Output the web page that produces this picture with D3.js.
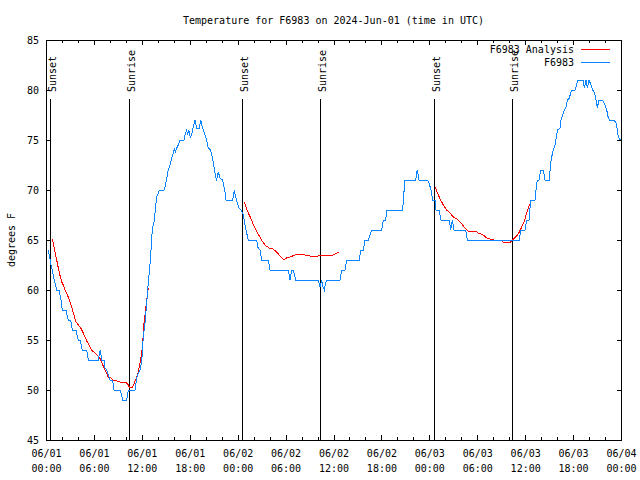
<!DOCTYPE html>
<html>
<head>
<meta charset="utf-8">
<script src="https://cdn.jsdelivr.net/npm/d3@7"></script>
<style>
  body { margin: 0; background: #fff; }
  svg text { font-family: "DejaVu Sans Mono", monospace; font-size: 10px; fill: #000; }
</style>
</head>
<body>
<svg id="chart" width="640" height="480"></svg>
<script>
// ---------------- DATA ----------------
const chartTitle = "Temperature for F6983 on 2024-Jun-01 (time in UTC)";
const yLabel = "degrees F";
const seriesNames = ["F6983 Analysis", "F6983"];
const startUTC = Date.UTC(2024, 5, 1);   // 06/01 00:00 UTC
const endUTC = Date.UTC(2024, 5, 4);     // 06/04 00:00 UTC
const yTicks = [45, 50, 55, 60, 65, 70, 75, 80, 85];

// sunrise / sunset events (hours after 06/01 00:00 UTC)
const sunLabels = ["Sunset", "Sunrise", "Sunset", "Sunrise", "Sunset", "Sunrise"];
const sunHours = [0.54, 10.43, 24.58, 34.35, 48.62, 58.39];

// observed temperature F6983: [hours after start, degF]
const observed = [
[0.29,64],[0.41,63.5],[0.63,62.5],[0.79,62],[0.91,61.5],[1.04,61],[1.21,60.5],[1.34,60],[1.63,60],[1.75,59.5],
[1.88,59],[2.04,58],[2.50,58],[2.67,57.3],[2.79,57],[3.09,57],[3.29,56],[3.76,56],[3.92,55.3],[4.04,55],
[4.26,55],[4.55,54],[5.10,54],[5.30,53],[6.55,53],[6.80,54],[6.89,53.5],[6.97,53],[7.26,53],[7.39,52.2],
[7.60,52],[7.80,51.5],[8.01,51],[8.35,51],[8.51,50],[9.27,50],[9.48,49.5],[9.60,49],[10.10,49],[10.23,49.7],
[10.36,50],[11.14,50],[11.36,51.2],[11.56,51.7],[11.77,52],[11.98,52.8],[12.18,55.3],[12.40,56.7],[12.61,58.7],[12.73,60],
[12.90,61.5],[13.02,62.5],[13.15,64],[13.24,65.3],[13.36,66.3],[13.52,66.8],[13.65,67.7],[13.77,68.7],[13.86,69.3],[14.06,69.7],
[14.19,70],[14.78,70],[14.90,70.3],[15.03,70.8],[15.19,71.5],[15.31,72],[15.61,72.7],[15.74,73.2],[15.94,73.7],[16.07,74.1],
[16.22,73.8],[16.37,74.2],[16.57,74.5],[16.78,75],[17.28,75],[17.41,75.5],[17.62,76],[17.74,75.5],[17.87,76],[18.07,75.3],
[18.24,75.5],[18.44,76.3],[18.66,77],[18.87,76.2],[19.20,76.2],[19.37,77],[19.57,76.3],[19.70,76],[19.91,75.5],[20.12,75],
[20.32,74.2],[20.62,74],[20.75,73.5],[20.95,72.8],[21.04,72.3],[21.25,71.3],[21.37,71],[21.58,71.8],[21.79,71.2],[22.08,71],
[22.20,70.7],[22.41,69.8],[22.54,69],[23.38,69],[23.58,70],[23.75,69.3],[23.95,68.7],[24.17,68.2],[24.42,68],[24.71,67.5],
[24.92,66.5],[25.13,65.7],[25.33,65],[26.38,65],[26.51,64.3],[26.80,64],[27.01,63],[27.84,63],[28.05,62],[30.34,62],
[30.55,61],[30.76,62],[30.96,62],[31.26,61],[34.10,61],[34.31,60.3],[34.52,61],[34.69,60.3],[34.85,60],[35.02,60.7],
[35.15,61],[36.81,61],[37.03,62],[37.44,62],[37.64,63],[39.23,63],[39.40,64],[39.73,64],[39.94,65],[40.35,65],
[40.78,66],[42.03,66],[42.24,67],[42.54,67],[42.66,68],[44.67,68],[44.74,69],[44.95,71],[46.29,71],[46.49,72],
[46.71,71],[47.75,71],[48.00,70.6],[48.21,70],[48.42,69],[48.71,69],[48.84,68],[49.21,68],[49.46,67],[50.50,67],
[50.68,66],[50.88,67],[51.09,66],[52.56,66],[52.76,65],[59.27,65],[59.45,66],[59.98,66],[60.19,67],[60.48,67],
[60.69,69],[61.23,69],[61.36,70],[61.52,71],[61.73,71],[61.94,72],[62.27,72],[62.48,71],[63.02,71],[63.20,72.7],
[63.32,73.3],[63.52,74],[63.74,74.5],[63.95,75.5],[64.07,76],[64.36,76.2],[64.49,77],[64.70,77.5],[64.90,78],[65.11,78.3],
[65.28,79],[65.53,79.2],[65.74,79.8],[65.90,80],[66.24,80],[66.45,80.5],[66.58,81],[67.28,81],[67.41,80.2],[67.62,81],
[67.78,80.2],[67.99,81],[68.20,80.6],[68.45,80],[68.65,79.8],[68.83,79.2],[69.03,78.2],[69.24,79],[69.71,79],[70.00,78.5],
[70.21,78],[70.41,77.2],[70.54,77],[71.13,77],[71.38,76.7],[71.54,76],[71.66,75.3],[71.91,75]
];

// analysis F6983 (three night segments)
const analysisNight1 = [
[0.79,65.1],[0.91,64.7],[1.13,63.8],[1.25,63.3],[1.42,62.7],[1.54,62.2],[1.67,61.7],[1.84,61.2],[1.97,60.8],[2.17,60.5],
[2.38,60],[2.59,59.7],[2.92,59],[3.22,58.3],[3.42,57.7],[3.76,56.8],[4.04,56.5],[4.35,56.2],[4.60,55.8],[4.88,55.3],
[5.17,54.8],[5.51,54.3],[5.80,53.9],[6.14,53.7],[6.42,53.5],[6.67,53.3],[6.97,52.8],[7.26,52.2],[7.51,51.8],[7.80,51.3],
[8.10,51.2],[8.43,51],[8.85,50.9],[9.27,50.8],[9.80,50.8],[10.10,50.7],[10.31,50.5],[10.43,50.3],[10.86,50.3],[11.06,50.7],
[11.36,51.3],[11.56,51.8],[11.77,52.7],[11.98,53.7],[12.11,54.7],[12.27,56.7],[12.43,57.7],[12.61,59],[12.81,60.2]
];
const analysisNight2 = [
[24.83,68.8],[25.04,68.3],[25.33,67.7],[25.63,67.2],[25.88,66.7],[26.17,66.2],[26.46,65.7],[26.80,65.3],[27.14,64.8],[27.55,64.4],
[27.96,64.2],[28.39,64.1],[28.89,63.8],[29.30,63.4],[29.80,63],[30.13,63.2],[30.55,63.3],[31.18,63.5],[31.81,63.6],[32.43,63.5],
[33.06,63.4],[33.68,63.3],[34.10,63.4],[34.52,63.5],[34.94,63.5],[35.56,63.4],[35.98,63.5],[36.40,63.7],[36.73,63.8]
];
const analysisNight3 = [
[48.71,70.3],[48.92,69.9],[49.12,69.5],[49.42,69],[49.75,68.5],[50.17,68],[50.59,67.7],[51.00,67.3],[51.43,67.1],[51.84,66.8],
[52.18,66.5],[52.56,66.1],[52.88,65.9],[53.72,65.9],[54.13,65.7],[54.76,65.5],[55.18,65.2],[55.60,65.1],[56.10,65],[56.85,65],
[57.26,64.8],[57.76,64.7],[58.18,64.8],[58.52,65.1],[58.94,65.4],[59.27,65.8],[59.57,66.3],[59.86,66.8],[60.11,67.5],[60.40,68.2],
[60.69,68.8]
];

// ---------------- DRAW ----------------
const svg = d3.select("#chart");
const M = { left: 46, right: 621, top: 40, bottom: 440 };
const toDate = h => new Date(startUTC + h * 3600e3);

const x = d3.scaleUtc().domain([new Date(startUTC), new Date(endUTC)]).range([M.left, M.right]);
const y = d3.scaleLinear().domain([45, 85]).range([M.bottom, M.top]);

const red = "#ff0000", blue = "#0a84ff";

// title
svg.append("text").attr("x", (M.left + M.right) / 2).attr("y", 20)
  .attr("text-anchor", "middle").attr("dominant-baseline", "central").text(chartTitle);

// y label
svg.append("text").attr("transform", `translate(11,${(M.top + M.bottom) / 2}) rotate(-90)`)
  .attr("text-anchor", "middle").attr("dominant-baseline", "central").text(yLabel);

// axes
const majorTicks = d3.utcHour.every(6).range(new Date(startUTC), new Date(endUTC + 1));
const minorTicks = d3.utcHour.every(2).range(new Date(startUTC), new Date(endUTC + 1));

const axG = svg.append("g").attr("shape-rendering", "crispEdges");
function styleAxis(g) {
  g.select(".domain").remove();
  g.selectAll("line").attr("stroke", "#000");
}
// bottom minor / major
axG.append("g").attr("transform", `translate(0,${M.bottom})`)
  .call(d3.axisBottom(x).tickValues(minorTicks).tickSize(-3).tickFormat(""))
  .call(styleAxis);
const bottomMajor = axG.append("g").attr("transform", `translate(0,${M.bottom})`)
  .call(d3.axisBottom(x).tickValues(majorTicks).tickSize(-5).tickFormat(""))
  .call(styleAxis);
const f1 = d3.utcFormat("%m/%d"), f2 = d3.utcFormat("%H:%M");
bottomMajor.selectAll(".tick").each(function(d) {
  const t = d3.select(this);
  t.select("text").remove();
  t.append("text").attr("x", 0).attr("y", 13.5).attr("text-anchor", "middle")
    .attr("dominant-baseline", "central").text(f1(d));
  t.append("text").attr("x", 0).attr("y", 28).attr("text-anchor", "middle")
    .attr("dominant-baseline", "central").text(f2(d));
});
// top mirror
axG.append("g").attr("transform", `translate(0,${M.top})`)
  .call(d3.axisTop(x).tickValues(minorTicks).tickSize(-3).tickFormat(""))
  .call(styleAxis);
axG.append("g").attr("transform", `translate(0,${M.top})`)
  .call(d3.axisTop(x).tickValues(majorTicks).tickSize(-5).tickFormat(""))
  .call(styleAxis);
// left
const leftAx = axG.append("g").attr("transform", `translate(${M.left},0)`)
  .call(d3.axisLeft(y).tickValues(yTicks).tickSize(-4).tickPadding(7))
  .call(styleAxis);
leftAx.selectAll("text").attr("font-family", "DejaVu Sans Mono").attr("font-size", 10)
  .attr("dy", null).attr("dominant-baseline", "central");
leftAx.attr("font-family", null).attr("font-size", null);
// right mirror
axG.append("g").attr("transform", `translate(${M.right},0)`)
  .call(d3.axisRight(y).tickValues(yTicks).tickSize(-4).tickFormat(""))
  .call(styleAxis);
bottomMajor.attr("font-family", null).attr("font-size", null);

// frame
axG.append("rect").attr("x", M.left).attr("y", M.top)
  .attr("width", M.right - M.left).attr("height", M.bottom - M.top)
  .attr("fill", "none").attr("stroke", "#000");

// sunrise / sunset
const sunG = svg.append("g");
sunHours.forEach((h, i) => {
  const sx = Math.round(x(toDate(h))) + 0.5;
  sunG.append("line").attr("x1", sx).attr("x2", sx).attr("y1", 99).attr("y2", M.bottom)
    .attr("stroke", "#000").attr("shape-rendering", "crispEdges");
  sunG.append("text").attr("transform", `translate(${sx + 5},92) rotate(-90)`)
    .attr("text-anchor", "start").text(sunLabels[i]);
});

// lines (aliased, like the original renderer)
const line = d3.line().x(d => x(toDate(d[0]))).y(d => y(d[1]));
[analysisNight1, analysisNight2, analysisNight3].forEach(seg => {
  svg.append("path").datum(seg).attr("d", line).attr("fill", "none")
    .attr("stroke", red).attr("stroke-width", 1).attr("shape-rendering", "crispEdges");
});
svg.append("path").datum(observed).attr("d", line).attr("fill", "none")
  .attr("stroke", blue).attr("stroke-width", 1).attr("shape-rendering", "crispEdges");

// legend
const legend = svg.append("g");
[[seriesNames[0], red, 49.5], [seriesNames[1], blue, 62.5]].forEach(([name, col, ly]) => {
  legend.append("text").attr("x", 574).attr("y", ly).attr("text-anchor", "end")
    .attr("dominant-baseline", "central").text(name);
  legend.append("line").attr("x1", 581).attr("x2", 610).attr("y1", ly).attr("y2", ly)
    .attr("stroke", col).attr("shape-rendering", "crispEdges");
});
</script>
</body>
</html>
